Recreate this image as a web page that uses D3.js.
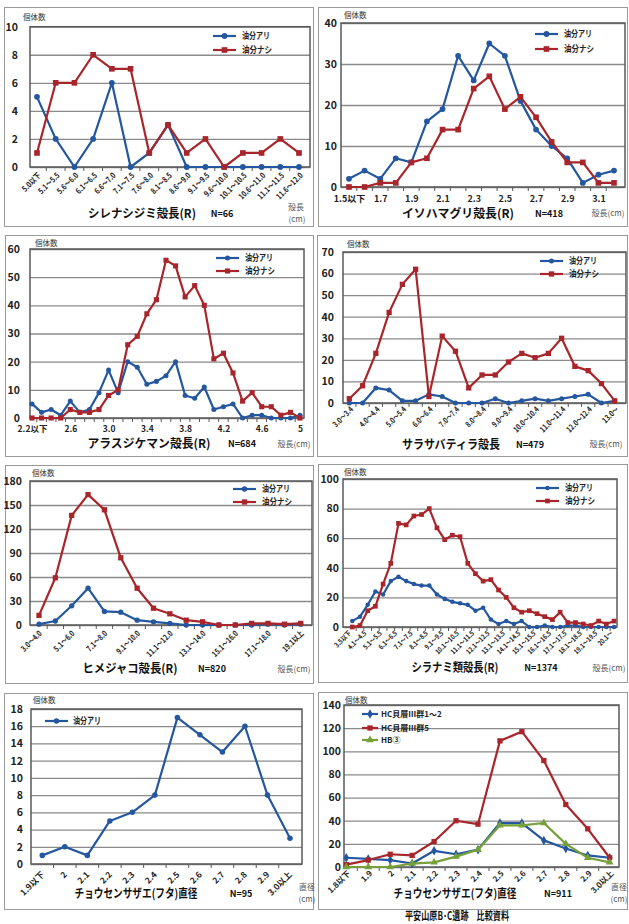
<!DOCTYPE html>
<html><head><meta charset="utf-8">
<script src="https://cdn.jsdelivr.net/npm/d3@7"></script>
<style>
body{margin:0;background:#fff;}
svg text{font-family:"Noto Sans CJK JP","Noto Sans",sans-serif;}
</style></head><body><svg id="c" width="629" height="924"></svg>
<script>
// ---------- DATA ----------
const shirenaCats = ["5.0以下","5.1～5.5","5.6～6.0","6.1～6.5","6.6～7.0","7.1～7.5","7.6～8.0","8.1～8.5","8.6～9.0","9.1～9.5","9.6～10.0","10.1～10.5","10.6～11.0","11.1～11.5","11.6～12.0"];
const shirenaAri   = [5,2,0,2,6,0,1,3,0,0,0,0,0,0,0];
const shirenaNashi = [1,6,6,8,7,7,1,3,1,2,0,1,1,2,1];

const isoCats  = ["1.5以下","1.6","1.7","1.8","1.9","2.0","2.1","2.2","2.3","2.4","2.5","2.6","2.7","2.8","2.9","3.0","3.1","3.2"];
const isoAri   = [2,4,2,7,6,16,19,32,26,35,32,21,14,10,7,1,3,4];
const isoNashi = [0,0,1,1,6,7,14,14,24,27,19,22,17,11,6,6,1,1];

const arasuCats  = ["2.2以下","2.3","2.4","2.5","2.6","2.7","2.8","2.9","3.0","3.1","3.2","3.3","3.4","3.5","3.6","3.7","3.8","3.9","4.0","4.1","4.2","4.3","4.4","4.5","4.6","4.7","4.8","4.9","5"];
const arasuAri   = [5,2,3,1,6,2,3,9,17,9,20,18,12,13,15,20,8,7,11,3,4,5,0,1,1,0,0,0,1];
const arasuNashi = [0,0,0,0,3,2,2,3,8,10,26,29,37,42,56,54,43,47,40,21,23,16,6,9,4,4,1,2,0];

const sarasaCats  = ["3.0～3.4","3.5～3.9","4.0～4.4","4.5～4.9","5.0～5.4","5.5～5.9","6.0～6.4","6.5～6.9","7.0～7.4","7.5～7.9","8.0～8.4","8.5～8.9","9.0～9.4","9.5～9.9","10.0～10.4","10.5～10.9","11.0～11.4","11.5～11.9","12.0～12.4","12.5～12.9","13.0～"];
const sarasaAri   = [0,0,7,6,1,1,4,3,0,0,0,2,0,1,2,1,2,3,4,0,1];
const sarasaNashi = [2,8,23,42,55,62,3,31,24,7,13,13,19,23,21,23,30,17,15,9,1];

const himeCats  = ["3.0～4.0","4.1～5.0","5.1～6.0","6.1～7.0","7.1～8.0","8.1～9.0","9.1～10.0","10.1～11.0","11.1～12.0","12.1～13.0","13.1～14.0","14.1～15.0","15.1～16.0","16.1～17.0","17.1～18.0","18.1～19.0","19.1以上"];
const himeAri   = [1,5,24,46,17,16,6,4,2,0,0,0,0,0,1,0,1];
const himeNashi = [12,59,137,163,144,84,46,21,14,6,4,0,0,2,2,1,2];

const shiraCats  = ["3.5以下","3.6～4.0","4.1～4.5","4.6～5.0","5.1～5.5","5.6～6.0","6.1～6.5","6.6～7.0","7.1～7.5","7.6～8.0","8.1～8.5","8.6～9.0","9.1～9.5","9.6～10.0","10.1～10.5","10.6～11.0","11.1～11.5","11.6～12.0","12.1～12.5","12.6～13.0","13.1～13.5","13.6～14.0","14.1～14.5","14.6～15.0","15.1～15.5","15.6～16.0","16.1～16.5","16.6～17.0","17.1～17.5","17.6～18.0","18.1～18.5","18.6～19.0","19.1～19.5","19.6～20.0","20.1～"];
const shiraAri   = [4,7,15,24,22,31,34,31,29,28,28,22,19,17,16,15,11,13,5,2,4,2,4,0,0,1,0,0,1,1,0,0,0,0,0];
const shiraNashi = [0,1,11,14,29,43,70,69,75,76,80,67,59,62,61,43,36,31,32,25,20,13,10,11,9,7,5,10,3,3,2,1,4,2,4];

const sazaeCats = ["1.9以下","2","2.1","2.2","2.3","2.4","2.5","2.6","2.7","2.8","2.9","3.0以上"];
const sazaeAri  = [1,2,1,5,6,8,17,15,13,16,8,3];

const compCats  = ["1.8以下","1.9","2","2.1","2.2","2.3","2.4","2.5","2.6","2.7","2.8","2.9","3.0以上"];
const compHC12  = [8,7,6,3,14,11,15,38,38,23,16,10,8];
const compHC5   = [2,6,11,10,22,40,37,109,117,92,54,33,8];
const compHB3   = [0,0,0,3,4,9,15,36,36,38,20,8,4];

const seriesAri = "油分アリ", seriesNashi = "油分ナシ";
const compNames = ["HC貝層Ⅲ群1～2","HC貝層Ⅲ群5","HB③"];

// ---------- STYLE ----------
const BLUE = "#24579f", RED = "#a8262b", GREEN = "#76a03a";
const svg = d3.select("#c");

function drawPanel(c) {
  const g = svg.append("g");
  g.append("rect").attr("x", c.frame[0]+0.5).attr("y", c.frame[1]+0.5)
    .attr("width", c.frame[2]-c.frame[0]).attr("height", c.frame[3]-c.frame[1])
    .attr("fill", "none").attr("stroke", "#9a9a9a").attr("stroke-width", 1);

  const x = d3.scalePoint().domain(c.cats).range([c.p0, c.p1]);
  const y = d3.scaleLinear().domain([0, c.ymax]).range([c.b, c.t]);

  const ticks = d3.range(0, c.ymax + c.ystep/2, c.ystep);
  const ya = g.append("g").attr("transform", `translate(${c.l},0)`)
    .call(d3.axisLeft(y).tickValues(ticks).tickSize(-(c.r - c.l)).tickPadding(c.yGap).tickFormat(d3.format("d")));
  ya.select(".domain").remove();
  ya.selectAll(".tick line").attr("stroke", "#8a8a8a").attr("stroke-width", 1.3);
  ya.selectAll(".tick text").attr("font-size", 10.5).attr("font-weight", "bold").attr("fill", "#222");

  g.append("rect").attr("x", c.l).attr("y", c.t).attr("width", c.r - c.l).attr("height", c.b - c.t)
    .attr("fill", "none").attr("stroke", "#5a5a5a").attr("stroke-width", 1.5);

  // category boundary tick marks
  const step = x.step();
  const bnd = c.cats.slice(0, -1).map(d => x(d) + step/2);
  g.append("g").selectAll("line").data(bnd).join("line")
    .attr("x1", d => d).attr("x2", d => d).attr("y1", c.b).attr("y2", c.b + 4)
    .attr("stroke", "#5a5a5a").attr("stroke-width", 1);

  const shown = c.cats.filter((d, i) => i % c.every === 0);
  const xa = g.append("g").attr("transform", `translate(0,${c.b})`)
    .call(d3.axisBottom(x).tickValues(shown).tickSize(0));
  xa.select(".domain").remove();
  const xt = xa.selectAll(".tick text").attr("font-size", c.xfs).attr("font-weight", "bold").attr("fill", "#222");
  if (c.rot) {
    xt.attr("y", 0).attr("dy", "0.35em").attr("text-anchor", "end")
      .attr("transform", `translate(${c.xdx},${c.xdy}) rotate(-45)`);
    if (c.xcomp) xt.each(function() {
      const L = this.getComputedTextLength();
      d3.select(this).attr("textLength", L * c.xcomp).attr("lengthAdjust", "spacingAndGlyphs");
    });
  } else {
    xt.attr("y", c.xdy).attr("dy", "0.35em");
  }

  const line = d3.line().x((d, i) => x(c.cats[i])).y(d => y(d));
  c.series.forEach(s => {
    g.append("path").datum(s.vals).attr("d", line).attr("fill", "none")
      .attr("stroke", s.color).attr("stroke-width", 2.2).attr("stroke-linejoin", "round");
    g.append("g").selectAll("path").data(s.vals).join("path")
      .attr("transform", (d, i) => `translate(${x(c.cats[i])},${y(d)})`)
      .attr("d", d3.symbol().type(s.sym).size(s.size || c.msize))
      .attr("fill", s.color);
  });

  // legend
  c.series.forEach((s, i) => {
    const ly = c.leg.ys[i];
    g.append("line").attr("x1", c.leg.x0).attr("x2", c.leg.x1).attr("y1", ly).attr("y2", ly)
      .attr("stroke", s.color).attr("stroke-width", 2.2);
    g.append("path").attr("transform", `translate(${(c.leg.x0 + c.leg.x1)/2},${ly})`)
      .attr("d", d3.symbol().type(s.sym).size(s.size || c.msize)).attr("fill", s.color);
    const t = g.append("text").attr("x", c.leg.tx).attr("y", ly).attr("dy", "0.35em")
      .attr("font-size", c.leg.fs).attr("font-weight", "bold").attr("fill", "#222").text(s.name);
    if (c.leg.tl) t.attr("textLength", c.leg.tl[i]).attr("lengthAdjust", "spacingAndGlyphs");
  });

  g.append("text").attr("x", c.yl[0]).attr("y", c.yl[1]).attr("dy", "0.35em")
    .attr("font-size", 7.5).attr("fill", "#333").text("個体数");

  g.append("text").attr("x", c.title[1]).attr("y", c.title[2]).attr("dy", "0.35em")
    .attr("text-anchor", "middle").attr("font-size", 12).attr("font-weight", "bold").attr("fill", "#111")
    .attr("textLength", c.title[3]).attr("lengthAdjust", "spacingAndGlyphs").text(c.title[0]);
  g.append("text").attr("x", c.nlab[1]).attr("y", c.title[2]).attr("dy", "0.35em")
    .attr("text-anchor", "middle").attr("font-size", 9).attr("font-weight", "bold").attr("fill", "#111").text(c.nlab[0]);
  c.unit.forEach(u => {
    g.append("text").attr("x", u[1]).attr("y", u[2]).attr("dy", "0.35em").attr("text-anchor", "middle")
      .attr("font-size", 8).attr("fill", "#555").text(u[0]);
  });
}

const legAN = (x0, y0, y1) => ({x0: x0, x1: x0 + 23, tx: x0 + 29, ys: [y0, y1], fs: 9, tl: [28, 30]});

drawPanel({frame:[4,7,313,226], l:30, r:310, t:26.7, b:167, p0:37, p1:299, cats:shirenaCats, ymax:10, ystep:2, yGap:12,
  rot:true, every:1, xfs:8, xdx:2, xdy:7, xcomp:0.82, msize:26,
  series:[{name:seriesAri, vals:shirenaAri, color:BLUE, sym:d3.symbolCircle},{name:seriesNashi, vals:shirenaNashi, color:RED, sym:d3.symbolSquare, size:32}],
  leg:legAN(213,36,50), yl:[23,17], title:["シレナシジミ殻長(R)",142,214,108], nlab:["N=66",222], unit:[["殻長",296,207],["(cm)",297,219]]});

drawPanel({frame:[318,7,627,226], l:341, r:625, t:23, b:187, p0:349, p1:614, cats:isoCats, ymax:40, ystep:10, yGap:4,
  rot:false, every:2, xfs:9, xdy:12, msize:26,
  series:[{name:seriesAri, vals:isoAri, color:BLUE, sym:d3.symbolCircle},{name:seriesNashi, vals:isoNashi, color:RED, sym:d3.symbolSquare, size:32}],
  leg:legAN(535,34,49), yl:[344,15], title:["イソハマグリ殻長(R)",458,214,112], nlab:["N=418",549], unit:[["殻長(cm)",608,213]]});

drawPanel({frame:[5,235,313,456], l:30, r:304, t:249, b:418, p0:32, p1:300, cats:arasuCats, ymax:60, ystep:10, yGap:10,
  rot:false, every:4, xfs:8.5, xdy:11, msize:20,
  series:[{name:seriesAri, vals:arasuAri, color:BLUE, sym:d3.symbolCircle},{name:seriesNashi, vals:arasuNashi, color:RED, sym:d3.symbolSquare, size:26}],
  leg:legAN(216,258,271), yl:[35,243], title:["アラスジケマン殻長(R)",149,444,123], nlab:["N=684",242], unit:[["殻長(cm)",294,444]]});

drawPanel({frame:[317,235,627,456], l:343, r:626, t:252, b:403, p0:349.3, p1:614.7, cats:sarasaCats, ymax:70, ystep:10, yGap:9,
  rot:true, every:2, xfs:8, xdx:2, xdy:5, xcomp:0.78, msize:20,
  series:[{name:seriesAri, vals:sarasaAri, color:BLUE, sym:d3.symbolCircle},{name:seriesNashi, vals:sarasaNashi, color:RED, sym:d3.symbolSquare, size:28}],
  leg:legAN(540,261,274), yl:[347,244], title:["サラサバティラ殻長",451,445,98], nlab:["N=479",530], unit:[["殻長(cm)",606,444]]});

drawPanel({frame:[5,465,313,683], l:30, r:312, t:481, b:625, p0:39, p1:300.7, cats:himeCats, ymax:180, ystep:30, yGap:8,
  rot:true, every:2, xfs:8, xdx:1, xdy:7, xcomp:0.8, msize:22,
  series:[{name:seriesAri, vals:himeAri, color:BLUE, sym:d3.symbolCircle},{name:seriesNashi, vals:himeNashi, color:RED, sym:d3.symbolSquare, size:28}],
  leg:legAN(233,489,502), yl:[32,473], title:["ヒメジャコ殻長(R)",130,669,95], nlab:["N=820",212], unit:[["殻長(cm)",294,669]]});

drawPanel({frame:[318,464,627,682], l:343, r:617, t:479, b:627, p0:352.3, p1:614, cats:shiraCats, ymax:100, ystep:20, yGap:4,
  rot:true, every:2, xfs:7, xdx:-3, xdy:5, xcomp:0.82, msize:16,
  series:[{name:seriesAri, vals:shiraAri, color:BLUE, sym:d3.symbolCircle},{name:seriesNashi, vals:shiraNashi, color:RED, sym:d3.symbolSquare, size:22}],
  leg:legAN(536,488,501), yl:[344,472], title:["シラナミ類殻長(R)",455,668,87], nlab:["N=1374",541], unit:[["殻長(cm)",609,668]]});

drawPanel({frame:[4,693,313,909], l:31, r:302, t:709, b:864, p0:42.3, p1:290, cats:sazaeCats, ymax:18, ystep:2, yGap:8,
  rot:true, every:1, xfs:8.5, xdx:0, xdy:9, msize:24,
  series:[{name:seriesAri, vals:sazaeAri, color:BLUE, sym:d3.symbolCircle}],
  leg:{x0:45, x1:68, tx:73, ys:[721], fs:9.5, tl:[28]}, yl:[33,700], title:["チョウセンサザエ(フタ)直径",136,894,123], nlab:["N=95",241], unit:[["直径",307,887],["(cm)",307,899]]});

drawPanel({frame:[318,692,627,909], l:344, r:619, t:705, b:867, p0:346.3, p1:609.7, cats:compCats, ymax:140, ystep:20, yGap:3,
  rot:true, every:1, xfs:8, xdx:2, xdy:5, msize:24,
  series:[{name:compNames[0], vals:compHC12, color:BLUE, sym:d3.symbolDiamond, size:26},
          {name:compNames[1], vals:compHC5, color:RED, sym:d3.symbolSquare, size:28},
          {name:compNames[2], vals:compHB3, color:GREEN, sym:d3.symbolTriangle, size:26}],
  leg:{x0:362, x1:378, tx:381, ys:[714,728,740], fs:8}, yl:[345,700], title:["チョウセンサザエ(フタ)直径",455,894,123], nlab:["N=911",558], unit:[["直径",619,887],["(cm)",619,899]]});

svg.append("text").attr("x", 457).attr("y", 916).attr("dy", "0.35em").attr("text-anchor", "middle")
  .attr("font-size", 11.5).attr("font-weight", "bold").attr("fill", "#111")
  .attr("textLength", 104).attr("lengthAdjust", "spacingAndGlyphs").text("平安山原B･C遺跡　比較資料");
</script></body></html>
